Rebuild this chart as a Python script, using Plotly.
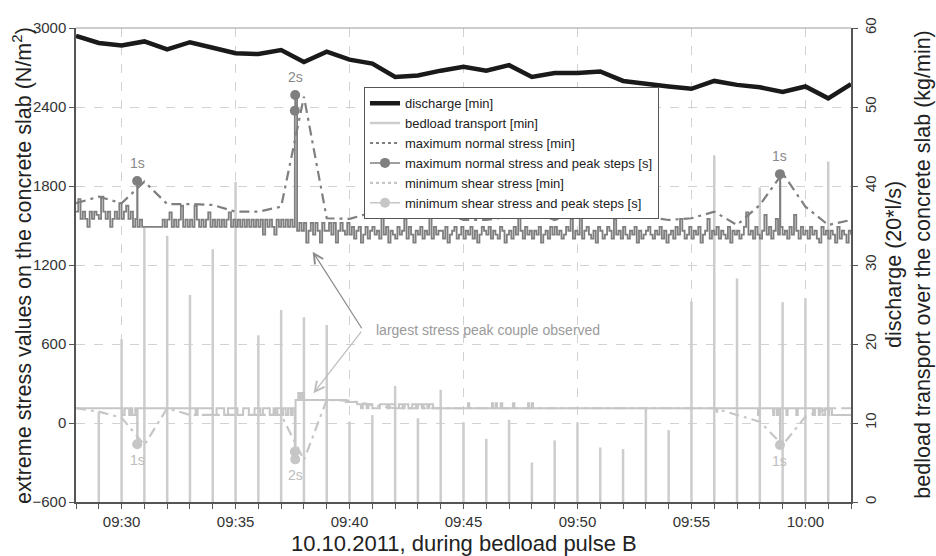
import pandas as pd
import plotly.graph_objects as go

DAY = "2011-10-10 "

# ---------------- data ----------------
minute_times = pd.date_range(DAY + "09:28", DAY + "10:02", freq="1min")  # 35 minutes

# discharge (20*l/s), right axis, per minute 09:28 .. 10:02
discharge = [59.0, 58.1, 57.8, 58.3, 57.3, 58.2, 57.5, 56.8, 56.7, 57.2,
             55.7, 57.0, 56.0, 55.5, 53.8, 54.0, 54.6, 55.1, 54.6, 55.3,
             53.8, 54.3, 54.3, 54.5, 53.3, 52.9, 52.6, 52.3, 53.3, 52.8,
             52.5, 51.9, 52.6, 51.1, 52.9]

# bedload transport (kg/min), right axis, per minute 09:29 .. 10:01
bedload = [11.4, 20.6, 34.7, 33.7, 26.2, 32.0, 40.5, 21.1, 24.3, 23.4,
           22.4, 10.2, 11.0, 14.7, 10.6, 14.2, 10.1, 8.0, 10.4, 5.0,
           7.8, 10.1, 6.9, 6.7, 11.9, 9.1, 25.4, 43.9, 28.3, 39.8,
           25.3, 25.8, 43.1]

# maximum normal stress [min] (N/m2), per minute 09:28 .. 10:02
max_normal_min = [1669, 1719, 1669, 1833, 1663, 1663, 1656, 1605, 1605, 1643,
                  2478, 1555, 1550, 1600, 1567, 1605, 1605, 1542, 1542, 1567,
                  1605, 1542, 1605, 1567, 1605, 1567, 1542, 1555, 1605, 1504,
                  1656, 1897, 1643, 1504, 1542]

# minimum shear stress [min] (N/m2), per minute 09:28 .. 10:02
min_shear_min = [112, 86, 40, -167, 112, 61, 61, 61, 61, 61,
                 -281, 175, 170, 137, 112, 112, 112, 112, 112, 112,
                 112, 112, 112, 112, 112, 112, 112, 112, 112, 61,
                 10, -167, 48, 112, 112]

# maximum normal stress [s]: values sampled every 6 s from 09:28:00 to 10:02:00
max_normal_s = [
    1605, 1700, 1550, 1605, 1550, 1490, 1605, 1550, 1605, 1580,  # 09:28
    1550, 1720, 1605, 1550, 1605, 1490, 1550, 1605, 1550, 1670,  # 09:29
    1550, 1605, 1650, 1550, 1605, 1490, 1550, 1490, 1545, 1490,  # 09:30
    1490, 1490, 1490, 1490, 1490, 1490, 1490, 1490, 1545, 1490,  # 09:31
    1545, 1600, 1490, 1545, 1490, 1545, 1650, 1490, 1545, 1490,  # 09:32
    1545, 1490, 1650, 1545, 1490, 1545, 1490, 1545, 1600, 1490,  # 09:33
    1545, 1490, 1545, 1490, 1545, 1490, 1545, 1600, 1490, 1545,  # 09:34
    1490, 1545, 1490, 1545, 1490, 1545, 1490, 1545, 1490, 1545,  # 09:35
    1490, 1545, 1430, 1545, 1490, 1545, 1490, 1430, 1545, 1490,  # 09:36
    1545, 1490, 1545, 1490, 1545, 1490, 1490, 1460, 1520, 1460,  # 09:37
    1520, 1370, 1460, 1520, 1430, 1520, 1460, 1370, 1520, 1460,  # 09:38
    1460, 1520, 1430, 1520, 1370, 1460, 1520, 1460, 1430, 1520,  # 09:39
    1430, 1490, 1400, 1460, 1490, 1370, 1430, 1490, 1400, 1460,  # 09:40
    1490, 1430, 1460, 1400, 1600, 1430, 1490, 1370, 1460, 1430,  # 09:41
    1400, 1490, 1430, 1460, 1550, 1400, 1490, 1430, 1370, 1460,  # 09:42
    1430, 1490, 1400, 1460, 1430, 1600, 1400, 1490, 1430, 1460,  # 09:43
    1460, 1400, 1490, 1370, 1430, 1460, 1490, 1400, 1430, 1490,  # 09:44
    1400, 1460, 1430, 1490, 1400, 1460, 1370, 1430, 1490, 1460,  # 09:45
    1430, 1490, 1400, 1460, 1430, 1400, 1490, 1460, 1370, 1430,  # 09:46
    1460, 1400, 1490, 1430, 1600, 1460, 1400, 1490, 1430, 1460,  # 09:47
    1400, 1460, 1430, 1490, 1370, 1430, 1460, 1400, 1490, 1430,  # 09:48
    1490, 1430, 1460, 1400, 1430, 1490, 1460, 1550, 1400, 1460,  # 09:49
    1430, 1600, 1400, 1460, 1490, 1430, 1400, 1460, 1370, 1490,  # 09:50
    1460, 1400, 1430, 1490, 1460, 1400, 1550, 1430, 1460, 1400,  # 09:51
    1490, 1430, 1400, 1460, 1430, 1490, 1370, 1460, 1400, 1430,  # 09:52
    1460, 1490, 1430, 1400, 1460, 1430, 1490, 1400, 1460, 1370,  # 09:53
    1430, 1460, 1400, 1490, 1430, 1550, 1460, 1400, 1430, 1490,  # 09:54
    1400, 1460, 1430, 1490, 1370, 1430, 1460, 1550, 1400, 1460,  # 09:55
    1430, 1490, 1400, 1460, 1430, 1400, 1490, 1370, 1460, 1430,  # 09:56
    1460, 1400, 1430, 1490, 1600, 1430, 1460, 1400, 1490, 1430,  # 09:57
    1400, 1460, 1580, 1430, 1490, 1400, 1460, 1550, 1430, 1490,  # 09:58
    1430, 1460, 1400, 1490, 1430, 1580, 1460, 1400, 1490, 1430,  # 09:59
    1460, 1400, 1490, 1430, 1460, 1400, 1370, 1490, 1430, 1460,  # 10:00
    1400, 1460, 1430, 1370, 1490, 1400, 1460, 1430, 1370, 1460,  # 10:01
    1430,                                                        # 10:02
]
S_STEP = 6  # seconds between samples above

# stress peaks [s]
max_peak_t = ["09:30:41", "09:37:36", "09:37:37", "09:58:53"]
max_peak_v = [1838, 2372, 2491, 1890]
min_peak_t = ["09:30:41", "09:37:36", "09:37:37", "09:58:53"]
min_peak_v = [-162, -218, -276, -167]

# peak step labels
label_t = ["09:30:41", "09:37:37", "09:58:53"]
label_text = ["1s", "2s", "1s"]
label_max_v = [1838, 2491, 1890]
label_min_v = [-162, -276, -167]

# minimum shear stress [s]: change points (step function)
shear_t = ["09:28:00", "09:30:02", "09:30:08", "09:30:20", "09:30:24", "09:30:28", "09:30:36", "09:30:42",
           "09:33:15", "09:33:20", "09:34:00", "09:34:10", "09:34:30", "09:34:40", "09:35:05", "09:35:20",
           "09:35:35", "09:35:50", "09:36:05", "09:36:12", "09:36:30", "09:36:40", "09:36:45", "09:36:50",
           "09:37:00", "09:37:05", "09:37:12", "09:37:18", "09:37:25", "09:37:30",
           "09:37:38", "09:37:45", "09:37:50", "09:37:55", "09:38:00", "09:39:50", "09:40:20",
           "09:40:30", "09:40:35", "09:40:45", "09:40:50", "09:41:00", "09:41:20", "09:41:40", "09:41:45",
           "09:42:00", "09:42:10", "09:42:20", "09:42:25", "09:42:35", "09:42:45", "09:42:55", "09:43:00",
           "09:43:10", "09:43:15", "09:43:25", "09:43:30", "09:43:40",
           "09:45:12", "09:45:15", "09:46:15", "09:46:18", "09:46:25", "09:46:28", "09:46:38", "09:46:42",
           "09:47:10", "09:47:14", "09:47:50", "09:47:53", "09:48:00", "09:48:03",
           "09:56:06", "09:56:08", "09:57:55", "09:57:58", "09:58:35", "09:58:38", "09:58:45", "09:58:48",
           "09:58:54", "09:59:10", "09:59:13", "09:59:36", "09:59:40", "10:00:20", "10:00:25", "10:00:35",
           "10:00:38", "10:00:45", "10:00:52", "10:01:00", "10:01:03", "10:01:10", "10:02:00"]
shear_v = [112, 61, 112, 61, 112, 61, 112, 112,
           61, 112, 61, 112, 61, 112, 61, 112,
           61, 112, 61, 112, 61, 112, 61, 112,
           61, 112, 61, 112, 61, 112,
           175, 228, 175, 228, 175, 160, 142,
           112, 142, 112, 142, 112, 142, 112, 142,
           112, 142, 112, 142, 112, 142, 112, 142,
           112, 142, 112, 142, 112,
           150, 112, 150, 112, 150, 112, 150, 112,
           150, 112, 150, 112, 150, 112,
           86, 112, 61, 112, 61, 112, 61, 112,
           112, 61, 112, 61, 112, 61, 112, 61,
           112, 61, 112, 61, 112, 61, 61]

# ---------------- styles ----------------
C_DIS = "#1a1a1a"
C_BED = "#cdcdcd"
C_MAX = "#7f7f7f"
C_MIN = "#c6c6c6"
DASHDOT = "10px,5px,3px,5px"
FONT = "Liberation Sans, Arial, Helvetica, sans-serif"

# ---------------- build series ----------------
start = pd.Timestamp(DAY + "09:28:00")
max_s = {start + pd.Timedelta(seconds=S_STEP * i): v for i, v in enumerate(max_normal_s)}
for t, v in zip(max_peak_t, max_peak_v):
    max_s[pd.Timestamp(DAY + t)] = v
max_s_items = sorted(max_s.items())

shear_s = {pd.Timestamp(DAY + t): v for t, v in zip(shear_t, shear_v)}
for t, v in zip(min_peak_t, min_peak_v):
    shear_s[pd.Timestamp(DAY + t)] = v
shear_items = sorted(shear_s.items())

bed_times = minute_times[1:1 + len(bedload)]
bx, by = [], []
for t, v in zip(bed_times, bedload):
    bx += [t, t, None]
    by += [0, v, None]

fig = go.Figure()

# right-axis traces (base subplot)
fig.add_trace(go.Scatter(x=bx, y=by, yaxis="y2", mode="lines",
                         line=dict(color=C_BED, width=2.5), showlegend=False, hoverinfo="skip"))
fig.add_trace(go.Scatter(x=minute_times, y=discharge, yaxis="y2", mode="lines",
                         line=dict(color=C_DIS, width=4.5), showlegend=False))

# left-axis traces (overlay, drawn above)
fig.add_trace(go.Scatter(x=[t for t, _ in shear_items], y=[v for _, v in shear_items], yaxis="y",
                         mode="lines", line=dict(color=C_MIN, width=2, shape="hv"), showlegend=False))
fig.add_trace(go.Scatter(x=minute_times, y=min_shear_min, yaxis="y", mode="lines",
                         line=dict(color=C_MIN, width=2.2, dash=DASHDOT), showlegend=False))
fig.add_trace(go.Scatter(x=[DAY + t for t in min_peak_t], y=min_peak_v, yaxis="y", mode="markers",
                         marker=dict(color=C_MIN, size=10), showlegend=False))
fig.add_trace(go.Scatter(x=[t for t, _ in max_s_items], y=[v for _, v in max_s_items], yaxis="y",
                         mode="lines", line=dict(color=C_MAX, width=1.8, shape="hv"), showlegend=False))
fig.add_trace(go.Scatter(x=minute_times, y=max_normal_min, yaxis="y", mode="lines",
                         line=dict(color=C_MAX, width=2.2, dash=DASHDOT), showlegend=False))
fig.add_trace(go.Scatter(x=[DAY + t for t in max_peak_t], y=max_peak_v, yaxis="y", mode="markers",
                         marker=dict(color=C_MAX, size=10), showlegend=False))

# legend entries
legend_items = [
    ("discharge [min]", dict(color=C_DIS, width=4.5), "lines", None),
    ("bedload transport [min]", dict(color=C_BED, width=2.5), "lines", None),
    ("maximum normal stress [min]", dict(color=C_MAX, width=2.2, dash="dot"), "lines", None),
    ("maximum normal stress and peak steps [s]", dict(color=C_MAX, width=1.5), "lines+markers",
     dict(color=C_MAX, size=10)),
    ("minimum shear stress [min]", dict(color=C_MIN, width=2.2, dash="dot"), "lines", None),
    ("minimum shear stress and peak steps [s]", dict(color=C_MIN, width=1.5), "lines+markers",
     dict(color=C_MIN, size=10)),
]
for name, ln, mode, mk in legend_items:
    kw = dict(x=[None], y=[None], yaxis="y", name=name, mode=mode, line=ln, showlegend=True)
    if mk:
        kw["marker"] = mk
    fig.add_trace(go.Scatter(**kw))

annotations = []
for t, txt, vmax, vmin in zip(label_t, label_text, label_max_v, label_min_v):
    annotations.append(dict(x=DAY + t, y=vmax, xref="x", yref="y", text=txt, showarrow=False,
                            yshift=18, font=dict(size=14, color="#8a8a8a")))
    annotations.append(dict(x=DAY + t, y=vmin, xref="x", yref="y", text=txt, showarrow=False,
                            yshift=-16, font=dict(size=14, color="#bdbdbd")))

# arrows toward the largest stress peak couple
annotations.append(dict(x=DAY + "09:38:23", y=1301, xref="x", yref="y", text="", showarrow=True,
                        ax=50, ay=78, axref="pixel", ayref="pixel", arrowhead=5, arrowsize=1.6,
                        arrowwidth=1.2, arrowcolor="#8a8a8a"))
annotations.append(dict(x=DAY + "09:38:25", y=226, xref="x", yref="y", text="", showarrow=True,
                        ax=49, ay=-63, axref="pixel", ayref="pixel", arrowhead=5, arrowsize=1.6,
                        arrowwidth=1.2, arrowcolor="#bdbdbd"))
annotations.append(dict(x=0.3845, y=0.363, xref="paper", yref="paper", xanchor="left", yanchor="middle",
                        text="largest stress peak couple observed", showarrow=False,
                        font=dict(size=14, color="#9a9a9a")))

# axis titles
annotations.append(dict(x=-0.0697, y=0.5, xref="paper", yref="paper", xanchor="center", yanchor="middle",
                        textangle=-90, showarrow=False,
                        text="extreme stress values on the concrete slab (N/m<sup>2</sup>)",
                        font=dict(size=21.5, color="#222")))
annotations.append(dict(x=1.0555, y=0.5, xref="paper", yref="paper", xanchor="center", yanchor="middle",
                        textangle=-90, showarrow=False,
                        text="discharge (20*l/s)", font=dict(size=21.5, color="#222")))
annotations.append(dict(x=1.0925, y=0.5, xref="paper", yref="paper", xanchor="center", yanchor="middle",
                        textangle=-90, showarrow=False,
                        text="bedload transport over the concrete slab (kg/min)",
                        font=dict(size=21.5, color="#222")))
annotations.append(dict(x=0.5, y=-0.0865, xref="paper", yref="paper", xanchor="center", yanchor="middle",
                        showarrow=False,
                        text="10.10.2011, during bedload pulse B", font=dict(size=22, color="#222")))

fig.update_layout(
    width=936, height=556,
    margin=dict(l=76, r=85, t=28, b=54),
    paper_bgcolor="white", plot_bgcolor="white",
    font=dict(family=FONT, size=15, color="#333"),
    showlegend=True,
    legend=dict(x=0.3716, y=0.875, xanchor="left", yanchor="top", bgcolor="white",
                bordercolor="#555", borderwidth=1, font=dict(size=13, color="#222"),
                itemwidth=30, tracegroupgap=0),
    xaxis=dict(type="date", range=[DAY + "09:28", DAY + "10:02"], tick0=DAY + "09:30", dtick=300000,
               tickformat="%H:%M", ticks="outside", ticklen=5, tickcolor="#555",
               showline=True, linecolor="#555", linewidth=2,
               showgrid=True, gridcolor="#d2d2d2", griddash="dash", gridwidth=1, zeroline=False,
               minor=dict(dtick=60000, tick0=DAY + "09:28", ticks="outside", ticklen=5,
                          tickcolor="#555", showgrid=False)),
    yaxis2=dict(range=[0, 60], dtick=10, side="right", anchor="x", showline=True, linecolor="#555",
                linewidth=1.5, ticks="outside", ticklen=5, tickcolor="#555", tickangle=-90,
                showgrid=False, zeroline=False),
    yaxis=dict(range=[-600, 3000], dtick=600, overlaying="y2", side="left", showline=True,
               linecolor="#555", linewidth=1.5, ticks="outside", ticklen=5, tickcolor="#555",
               showgrid=True, gridcolor="#d2d2d2", griddash="dash", zeroline=False),
    annotations=annotations,
    shapes=[dict(type="line", xref="paper", yref="paper", x0=0, x1=1, y0=1, y1=1,
                 line=dict(color="#9a9a9a", width=1))],
)

fig.write_html("out.html")
